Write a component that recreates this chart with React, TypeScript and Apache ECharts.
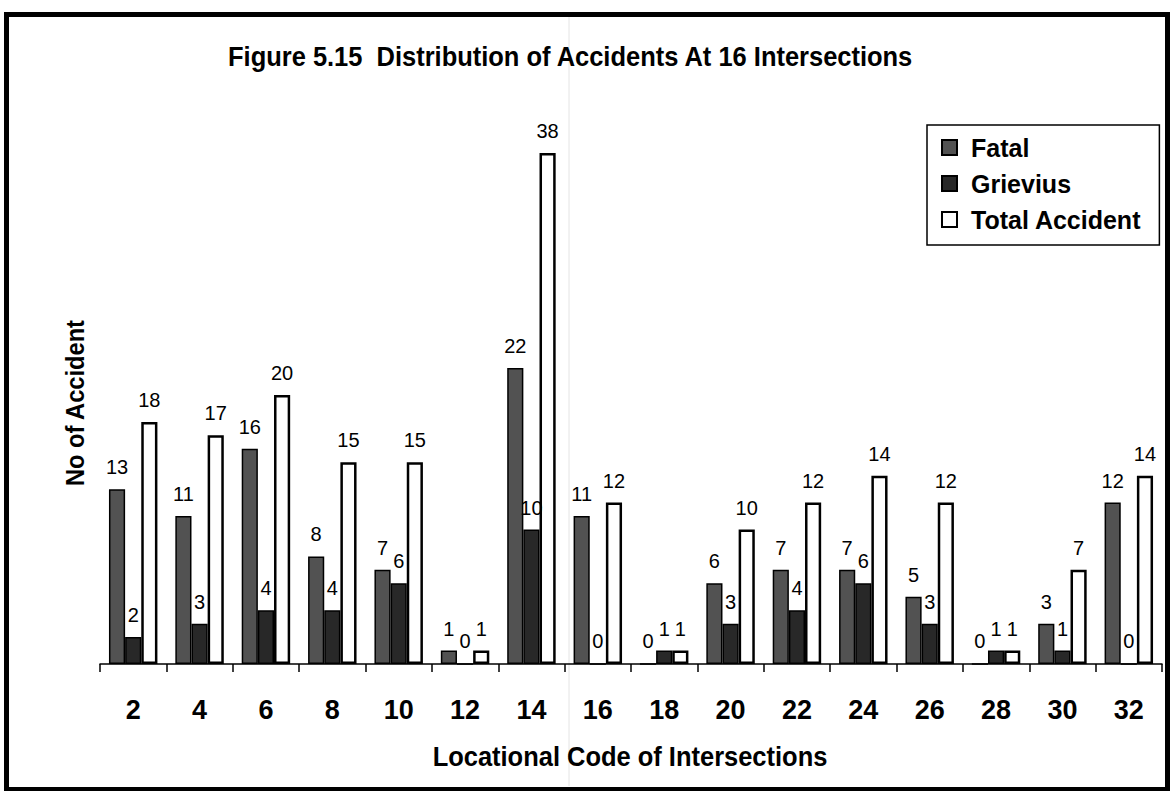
import React, { useEffect, useRef } from "react";
import * as echarts from "echarts";

const categories = ["2", "4", "6", "8", "10", "12", "14", "16", "18", "20", "22", "24", "26", "28", "30", "32"];
const fatal = [13, 11, 16, 8, 7, 1, 22, 11, 0, 6, 7, 7, 5, 0, 3, 12];
const grievius = [2, 3, 4, 4, 6, 0, 10, 0, 1, 3, 4, 6, 3, 1, 1, 0];
const totalAccident = [18, 17, 20, 15, 15, 1, 38, 12, 1, 10, 12, 14, 12, 1, 7, 14];

const SANS = "'Liberation Sans', Arial, Helvetica, sans-serif";

export default function App() {
  const ref = useRef<HTMLDivElement>(null);
  useEffect(() => {
    if (!ref.current) return;
    const chart = echarts.init(ref.current, undefined, { renderer: "svg" });
    const label = {
      show: true,
      position: "top",
      distance: 12,
      color: "#000",
      fontFamily: SANS,
      fontSize: 20,
    };
    chart.setOption({
      animation: false,
      backgroundColor: "#fff",
      legend: {
        orient: "vertical",
        left: 927,
        top: 125,
        padding: [10, 18, 13, 14],
        itemGap: 11,
        itemWidth: 15,
        itemHeight: 15,
        icon: "rect",
        borderColor: "#000",
        borderWidth: 1.5,
        backgroundColor: "#fff",
        textStyle: { fontFamily: SANS, fontWeight: "bold", fontSize: 25, color: "#000", lineHeight: 25, padding: [0, 0, 0, 9] },
        data: ["Fatal", "Grievius", "Total Accident"],
      },
      grid: { left: 100, right: 9, top: 126, bottom: 127 },
      xAxis: {
        type: "category",
        data: categories,
        axisLine: { lineStyle: { color: "#000", width: 1.5 } },
        axisTick: { show: true, length: 8, lineStyle: { color: "#000", width: 1.5 } },
        axisLabel: { color: "#000", fontFamily: SANS, fontWeight: "bold", fontSize: 27, margin: 32 },
      },
      yAxis: {
        type: "value",
        min: 0,
        max: 40,
        show: false,
        splitLine: { show: false },
      },
      series: [
        {
          name: "Fatal",
          type: "bar",
          data: fatal,
          barGap: "0%",
          barCategoryGap: "27%",
          itemStyle: { color: "#525252", borderColor: "#000", borderWidth: 1.5 },
          label,
        },
        {
          name: "Grievius",
          type: "bar",
          data: grievius,
          barGap: "0%",
          barCategoryGap: "27%",
          itemStyle: { color: "#282828", borderColor: "#000", borderWidth: 1.5 },
          label,
        },
        {
          name: "Total Accident",
          type: "bar",
          data: totalAccident,
          barGap: "0%",
          barCategoryGap: "27%",
          itemStyle: { color: "#fff", borderColor: "#000", borderWidth: 2.5 },
          label,
        },
      ],
      graphic: [
        {
          type: "line",
          silent: true,
          z: -1,
          shape: { x1: 569, y1: 17, x2: 569, y2: 786 },
          style: { stroke: "#e4e4e4", lineWidth: 1 },
        },
        {
          type: "text",
          x: 228,
          y: 57,
          scaleX: 0.91,
          style: {
            text: "Figure 5.15\u00a0\u00a0Distribution of Accidents At 16 Intersections",
            fontFamily: SANS,
            fontWeight: "bold",
            fontSize: 28,
            fill: "#000",
            align: "left",
            verticalAlign: "middle",
          },
        },
        {
          type: "text",
          x: 75,
          y: 403,
          rotation: Math.PI / 2,
          scaleX: 0.91,
          style: {
            text: "No of Accident",
            fontFamily: SANS,
            fontWeight: "bold",
            fontSize: 26,
            fill: "#000",
            align: "center",
            verticalAlign: "middle",
          },
        },
        {
          type: "text",
          x: 630,
          y: 757,
          scaleX: 0.91,
          style: {
            text: "Locational Code of Intersections",
            fontFamily: SANS,
            fontWeight: "bold",
            fontSize: 28,
            fill: "#000",
            align: "center",
            verticalAlign: "middle",
          },
        },
        {
          type: "rect",
          silent: true,
          shape: { x: 6.5, y: 14.5, width: 1161, height: 775 },
          style: { fill: "none", stroke: "#000", lineWidth: 5 },
        },
      ],
    });
    return () => chart.dispose();
  }, []);
  return <div ref={ref} style={{ position: "fixed", left: 0, top: 0, width: 1171, height: 791 }} />;
}
